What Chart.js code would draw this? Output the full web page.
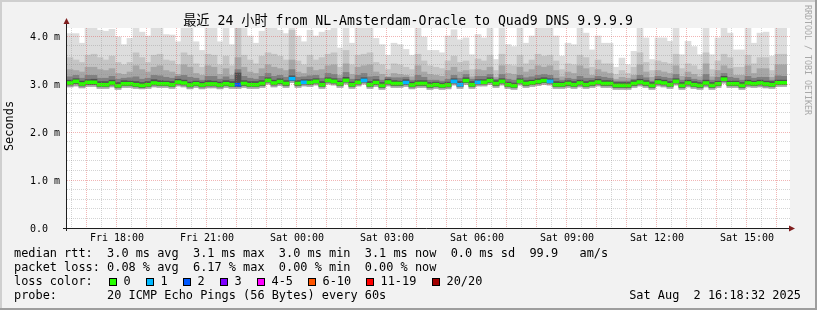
<!DOCTYPE html>
<html><head><meta charset="utf-8">
<script src="https://cdn.jsdelivr.net/npm/chart.js@4.4.1/dist/chart.umd.min.js"></script>
<style>html,body{margin:0;padding:0;background:#f2f2f2;overflow:hidden}canvas{display:block}</style>
</head><body><canvas id="c" width="817" height="310"></canvas>
<script>
// ---------------- data ----------------
const binMinutes = 12;                       // one bar per 12 minutes, 24 h window starting Fri 16:20
const xTickMinutes = [100, 280, 460, 640, 820, 1000, 1180, 1360];
const xTickLabels = ['Fri 18:00','Fri 21:00','Sat 00:00','Sat 03:00','Sat 06:00','Sat 09:00','Sat 12:00','Sat 15:00'];
const yTickValues = [0, 1, 2, 3, 4];
const yTickLabels = ['0.0', '1.0 m', '2.0 m', '3.0 m', '4.0 m'];

// median rtt (ms)
const medianRtt = [
 3.02,3.055,3.0,3.035,3.035,2.985,2.985,3.02,2.965,3.005,3.005,2.985,2.97,2.985,3.02,3.005,3.005,2.985,3.04,3.02,2.98,3.005,2.98,3.0,3.0,2.98,3.005,2.985,2.985,3.01,
 2.985,2.985,3.01,3.075,3.02,3.05,3.01,3.11,3.01,3.035,3.03,3.055,2.985,3.075,3.055,3.005,3.075,2.985,3.035,3.075,2.985,3.03,2.97,3.04,3.01,3.01,3.03,2.98,3.01,3.01,
 2.97,2.985,2.965,2.98,3.055,2.985,3.07,2.985,3.035,3.035,3.07,3.01,3.055,2.985,2.965,3.055,3.01,3.025,3.05,3.07,3.055,2.985,2.985,3.01,2.985,3.02,2.985,3.01,3.04,3.01,
 3.01,2.97,2.97,2.97,3.01,3.04,3.01,2.97,3.04,3.02,2.985,3.055,2.97,3.02,2.985,2.97,3.02,2.97,3.005,3.10,3.005,3.005,2.97,3.02,3.005,3.02,3.0,2.985,3.025,3.025
];
// lost pings (of 20) per bar
const lossPings = [
 0,0,0,0,0,0,0,0,0,0,0,0,0,0,0,0,0,0,0,0,0,0,0,0,0,0,0,0,2,0,
 0,0,0,0,0,0,0,1,0,1,0,0,0,0,0,0,0,0,0,1,0,0,0,0,0,0,1,0,0,0,
 0,0,0,0,1,1,0,0,1,0,0,0,0,0,0,0,0,0,0,0,1,0,0,0,0,0,0,0,0,0,
 0,0,0,0,0,0,0,0,0,0,0,0,0,0,0,0,0,0,0,0,0,0,0,0,0,0,0,0,0,0
];
// smoke: slowest ping of each bar (ms)
const pingMax = [
 4.05,4.05,3.85,4.2,4.2,4.12,4.10,4.14,3.98,3.82,3.95,4.2,4.08,4.0,4.2,4.2,4.03,4.02,3.88,4.2,4.2,3.88,3.70,4.2,4.2,3.88,4.2,3.82,4.2,4.2,
 4.0,3.85,4.10,4.2,4.2,4.12,4.05,4.2,4.0,3.88,4.12,4.0,4.08,4.12,4.2,3.75,4.2,3.85,4.2,4.2,4.2,3.95,3.82,3.60,3.85,3.82,3.72,3.60,4.2,3.98,
 3.70,3.70,3.65,4.0,4.13,3.92,3.96,3.61,4.03,3.96,4.2,3.51,4.2,3.82,3.78,4.2,3.85,4.0,4.2,4.2,4.2,4.0,3.58,3.85,3.82,4.2,4.06,3.71,4.0,3.85,
 3.85,3.35,3.54,3.40,3.68,4.2,3.96,3.51,3.96,3.96,3.89,4.2,3.61,3.89,3.78,3.61,4.2,3.61,3.96,4.2,4.06,3.71,3.71,4.2,3.85,4.06,4.08,3.58,4.2,4.2
];
// smoke: upper edges of the inner (darker) smoke bands (ms)
const smoke2Top = [
 3.55,3.50,3.45,3.60,3.62,3.55,3.50,3.58,3.45,3.40,3.45,3.65,3.55,3.45,3.60,3.62,3.50,3.48,3.40,3.65,3.60,3.42,3.35,3.62,3.60,3.40,3.58,3.38,4.2,3.60,
 3.50,3.42,3.58,3.65,3.62,3.58,3.50,4.12,3.48,3.40,3.60,3.50,3.55,3.62,3.65,3.35,3.70,3.40,3.60,3.62,3.65,3.45,3.40,3.30,3.42,3.40,3.35,3.30,3.62,3.48,
 3.38,3.35,3.32,3.48,3.58,3.45,3.48,3.30,3.52,3.48,3.60,3.28,3.62,3.40,3.38,3.60,3.42,3.50,3.62,3.58,3.60,3.48,3.30,3.42,3.40,3.60,3.55,3.35,3.50,3.42,
 3.42,3.20,3.28,3.22,3.35,3.65,3.45,3.28,3.48,3.45,3.42,3.62,3.32,3.42,3.38,3.30,3.65,3.30,3.48,3.62,3.55,3.35,3.35,3.60,3.42,3.55,3.55,3.28,3.62,3.62
];
const smoke3Top = [
 3.30,3.28,3.25,3.35,3.35,3.30,3.28,3.32,3.22,3.20,3.25,3.38,3.30,3.25,3.35,3.38,3.28,3.25,3.20,3.40,3.35,3.22,3.18,3.38,3.35,3.20,3.32,3.18,3.55,3.35,
 3.25,3.22,3.32,3.40,3.35,3.32,3.28,3.50,3.25,3.22,3.35,3.28,3.30,3.38,3.40,3.18,3.42,3.20,3.35,3.38,3.40,3.25,3.20,3.15,3.22,3.20,3.18,3.15,3.38,3.25,
 3.20,3.18,3.16,3.28,3.35,3.25,3.28,3.15,3.30,3.28,3.35,3.14,3.38,3.22,3.20,3.35,3.25,3.30,3.38,3.35,3.38,3.28,3.15,3.25,3.22,3.38,3.32,3.18,3.30,3.25,
 3.22,3.10,3.14,3.12,3.18,3.40,3.25,3.14,3.28,3.25,3.22,3.38,3.16,3.25,3.20,3.15,3.42,3.15,3.28,3.38,3.32,3.18,3.18,3.38,3.22,3.32,3.32,3.14,3.40,3.40
];
const smoke4Top = [
 3.15,3.18,3.12,3.18,3.18,3.12,3.12,3.16,3.10,3.12,3.13,3.15,3.10,3.12,3.18,3.17,3.14,3.12,3.16,3.18,3.14,3.12,3.08,3.16,3.16,3.10,3.15,3.10,3.30,3.16,
 3.12,3.10,3.16,3.22,3.16,3.18,3.14,3.30,3.14,3.15,3.17,3.18,3.12,3.22,3.20,3.12,3.24,3.10,3.18,3.22,3.15,3.16,3.08,3.14,3.13,3.13,3.14,3.08,3.18,3.14,
 3.08,3.08,3.06,3.10,3.18,3.12,3.20,3.10,3.16,3.16,3.20,3.10,3.20,3.10,3.08,3.18,3.13,3.15,3.18,3.20,3.18,3.12,3.08,3.12,3.10,3.16,3.12,3.12,3.16,3.14,
 3.12,3.06,3.06,3.06,3.10,3.18,3.13,3.06,3.16,3.14,3.12,3.20,3.08,3.14,3.10,3.08,3.20,3.08,3.14,3.22,3.14,3.12,3.08,3.16,3.12,3.14,3.14,3.08,3.17,3.16
];
const smoke5Top = [
 3.08,3.11,3.06,3.09,3.10,3.05,3.05,3.08,3.03,3.07,3.06,3.05,3.03,3.05,3.09,3.07,3.06,3.05,3.10,3.08,3.04,3.06,3.04,3.07,3.06,3.04,3.07,3.05,3.23,3.07,
 3.05,3.05,3.07,3.13,3.08,3.11,3.07,3.17,3.07,3.09,3.09,3.11,3.05,3.13,3.11,3.06,3.14,3.04,3.09,3.13,3.05,3.09,3.03,3.10,3.07,3.06,3.09,3.04,3.07,3.07,
 3.03,3.04,3.02,3.04,3.11,3.05,3.13,3.05,3.09,3.09,3.13,3.07,3.11,3.04,3.02,3.11,3.07,3.08,3.11,3.13,3.11,3.05,3.04,3.07,3.05,3.08,3.05,3.07,3.10,3.07,
 3.07,3.03,3.03,3.03,3.07,3.10,3.07,3.03,3.10,3.08,3.05,3.11,3.03,3.08,3.05,3.03,3.08,3.03,3.06,3.16,3.06,3.06,3.03,3.08,3.06,3.08,3.06,3.05,3.08,3.08
];
// smoke: lower edges (fastest ping, and inner low band)
const pingMin = [
 2.94,2.96,2.92,2.95,2.95,2.91,2.91,2.94,2.89,2.93,2.93,2.91,2.90,2.91,2.94,2.93,2.93,2.91,2.96,2.94,2.90,2.93,2.90,2.92,2.92,2.90,2.93,2.91,2.91,2.93,
 2.91,2.91,2.93,3.00,2.94,2.97,2.93,3.03,2.93,2.96,2.95,2.98,2.91,3.00,2.98,2.93,3.00,2.91,2.96,3.00,2.91,2.95,2.89,2.96,2.93,2.93,2.95,2.90,2.93,2.93,
 2.89,2.91,2.89,2.90,2.98,2.91,2.99,2.91,2.96,2.96,2.99,2.93,2.98,2.91,2.89,2.98,2.93,2.95,2.97,2.99,2.98,2.91,2.91,2.93,2.91,2.94,2.91,2.93,2.96,2.93,
 2.93,2.89,2.89,2.89,2.93,2.96,2.93,2.89,2.96,2.94,2.91,2.98,2.89,2.94,2.91,2.89,2.94,2.89,2.93,3.02,2.93,2.93,2.89,2.94,2.93,2.94,2.92,2.91,2.95,2.95
];
const pingLow = [
 2.98,3.01,2.96,2.99,2.99,2.95,2.95,2.98,2.93,2.97,2.97,2.95,2.93,2.95,2.98,2.97,2.97,2.95,3.00,2.98,2.94,2.97,2.94,2.96,2.96,2.94,2.97,2.95,2.95,2.97,
 2.95,2.95,2.97,3.04,2.98,3.01,2.97,3.07,2.97,3.00,2.99,3.02,2.95,3.04,3.02,2.97,3.04,2.95,3.00,3.04,2.95,2.99,2.93,3.00,2.97,2.97,2.99,2.94,2.97,2.97,
 2.93,2.95,2.93,2.94,3.02,2.95,3.03,2.95,3.00,3.00,3.03,2.97,3.02,2.95,2.93,3.02,2.97,2.99,3.01,3.03,3.02,2.95,2.95,2.97,2.95,2.98,2.95,2.97,3.00,2.97,
 2.97,2.93,2.93,2.93,2.97,3.00,2.97,2.93,3.00,2.98,2.95,3.02,2.93,2.98,2.95,2.93,2.98,2.93,2.97,3.06,2.97,2.97,2.93,2.98,2.97,2.98,2.96,2.95,2.99,2.99
];
const lossColorLabels = ['0','1','2','3','4-5','6-10','11-19','20/20'];
const lossColors = ['#26ff00','#00b8ff','#0059ff','#7e00ff','#ff00ff','#ff5500','#ff0000','#a10000'];

const titleText = '最近 24 小时 from NL-Amsterdam-Oracle to Quad9 DNS 9.9.9.9';
const legendLines = [
 'median rtt:  3.0 ms avg  3.1 ms max  3.0 ms min  3.1 ms now  0.0 ms sd  99.9   am/s',
 'packet loss: 0.08 % avg  6.17 % max  0.00 % min  0.00 % now'
];
const probeText = 'probe:       20 ICMP Echo Pings (56 Bytes) every 60s';
const dateText = 'Sat Aug  2 16:18:32 2025';

// ---------------- helpers ----------------
function lossIndex(n){ if(n<=3) return n; if(n<=5) return 4; if(n<=10) return 5; if(n<=19) return 6; return 7; }
const xOf = i => i*binMinutes + binMinutes/2;
function band(lo, hi){ return lo.map((v,i)=>({x:xOf(i), y:[v, hi[i]]})); }
const MEDW = 0.031;

const MONO = "'DejaVu Sans Mono','Noto Sans CJK SC',monospace";

const rrdPlugin = {
  id: 'rrd',
  beforeDraw(chart){
    const {ctx, chartArea:a} = chart;
    ctx.save();
    ctx.fillStyle = '#f2f2f2'; ctx.fillRect(0,0,chart.width,chart.height);
    ctx.fillStyle = '#ffffff'; ctx.fillRect(a.left, a.top, a.right-a.left+3, a.bottom-a.top);
    ctx.restore();
  },
  afterDatasetsDraw(chart){
    const {ctx, chartArea:a, scales:{x,y}} = chart;
    ctx.save();
    ctx.lineWidth = 1;
    ctx.setLineDash([1,1]);
    // minor horizontal grid (0.2 m)
    ctx.strokeStyle = 'rgba(143,143,143,0.38)';
    for(let k=1;k<=20;k++){
      if(k%5===0) continue;
      const py = Math.floor(y.getPixelForValue(k*0.2))+0.5;
      if(py < a.top) break;
      ctx.beginPath(); ctx.moveTo(a.left, py); ctx.lineTo(a.right+3, py); ctx.stroke();
    }
    // minor vertical grid (30 min)
    for(let t=10;t<1440;t+=60){
      const px = Math.round(x.getPixelForValue(t))-0.5;
      ctx.beginPath(); ctx.moveTo(px, a.top); ctx.lineTo(px, a.bottom); ctx.stroke();
    }
    // major grid
    ctx.strokeStyle = 'rgba(222,79,79,0.42)';
    for(const v of yTickValues){
      if(v===0) continue;
      const py = Math.floor(y.getPixelForValue(v))+0.5;
      ctx.beginPath(); ctx.moveTo(a.left, py); ctx.lineTo(a.right+3, py); ctx.stroke();
    }
    for(let t=40;t<1440;t+=60){
      const px = Math.round(x.getPixelForValue(t))-0.5;
      ctx.beginPath(); ctx.moveTo(px, a.top); ctx.lineTo(px, a.bottom+2); ctx.stroke();
    }
    ctx.restore();
  },
  afterDraw(chart){
    const {ctx, chartArea:a, scales:{x,y}} = chart;
    ctx.save();
    // axes
    ctx.strokeStyle = '#1f1f1f'; ctx.lineWidth = 1; ctx.setLineDash([]);
    ctx.beginPath(); ctx.moveTo(63, a.bottom+0.5); ctx.lineTo(a.right+3, a.bottom+0.5); ctx.stroke();
    ctx.beginPath(); ctx.moveTo(a.left-0.5, a.bottom+3); ctx.lineTo(a.left-0.5, a.top-5); ctx.stroke();
    ctx.fillStyle = '#801f1f';
    ctx.beginPath(); ctx.moveTo(a.right+2, a.bottom-2.5); ctx.lineTo(a.right+8, a.bottom+0.5); ctx.lineTo(a.right+2, a.bottom+3.5); ctx.closePath(); ctx.fill();
    ctx.beginPath(); ctx.moveTo(a.left-3.5, a.top-4); ctx.lineTo(a.left-0.5, a.top-10); ctx.lineTo(a.left+2.5, a.top-4); ctx.closePath(); ctx.fill();
    // tick labels
    ctx.fillStyle = '#000';
    ctx.font = '10px ' + MONO; ctx.textBaseline = 'middle';
    ctx.textAlign = 'left';
    yTickValues.forEach((v,i)=>{ ctx.fillText(yTickLabels[i], 30, y.getPixelForValue(v)+1); });
    ctx.textAlign = 'center';
    xTickMinutes.forEach((t,i)=>{ ctx.fillText(xTickLabels[i], x.getPixelForValue(t), 238); });
    // title
    ctx.font = '13.2px ' + MONO;
    ctx.fillText(titleText, 408, 22);
    // y axis title
    ctx.save(); ctx.translate(10, 126); ctx.rotate(-Math.PI/2);
    ctx.font = '11.9px ' + MONO; ctx.fillText('Seconds', 0, 0); ctx.restore();
    // watermark
    ctx.save(); ctx.translate(807, 5); ctx.rotate(Math.PI/2);
    ctx.font = '8.3px ' + MONO; ctx.fillStyle = '#a8a8a8'; ctx.textAlign='left';
    ctx.fillText('RRDTOOL / TOBI OETIKER', 0, 0); ctx.restore();
    // legend
    ctx.font = '11.9px ' + MONO; ctx.textAlign = 'left';
    ctx.fillText(legendLines[0], 14, 254);
    ctx.fillText(legendLines[1], 14, 268);
    ctx.fillText('loss color:', 14, 282);
    let bx = 109;
    lossColorLabels.forEach((lab,i)=>{
      ctx.fillStyle = '#000'; ctx.fillRect(bx, 278, 8, 8);
      ctx.fillStyle = lossColors[i]; ctx.fillRect(bx+1, 279, 6, 6);
      ctx.fillStyle = '#000';
      const tx = bx + 14.5;
      ctx.fillText(lab, tx, 282);
      bx = Math.round(tx + ctx.measureText(lab).width + 15.3);
    });
    ctx.fillText(probeText, 14, 296);
    ctx.textAlign = 'right';
    ctx.fillText(dateText, 801, 296);
    // frame
    ctx.fillStyle = '#cfcfcf'; ctx.fillRect(0,0,chart.width,2); ctx.fillRect(0,0,2,chart.height);
    ctx.fillStyle = '#9e9e9e'; ctx.fillRect(0,chart.height-2,chart.width,2); ctx.fillRect(chart.width-2,0,2,chart.height);
    ctx.restore();
  }
};

const medianColors = lossPings.map(n => lossColors[lossIndex(n)]);
const common = {grouped:false, barPercentage:1, categoryPercentage:1, borderWidth:0, borderSkipped:false};

new Chart(document.getElementById('c'), {
  type: 'bar',
  data: { datasets: [
    Object.assign({label:'median rtt', data: medianRtt.map((m,i)=>({x:xOf(i), y:[m-MEDW, m+MEDW]})), backgroundColor: medianColors, order:0}, common),
    Object.assign({label:'smoke5', data: band(pingLow, smoke5Top), backgroundColor:'#505050', order:1}, common),
    Object.assign({label:'smoke4', data: band(pingLow, smoke4Top), backgroundColor:'#808080', order:2}, common),
    Object.assign({label:'smoke3', data: band(pingMin, smoke3Top), backgroundColor:'#a6a6a6', order:3}, common),
    Object.assign({label:'smoke2', data: band(pingMin, smoke2Top), backgroundColor:'#c4c4c4', order:4}, common),
    Object.assign({label:'smoke1', data: band(pingMin, pingMax), backgroundColor:'#dddddd', order:5}, common)
  ]},
  options: {
    responsive:false, animation:false, devicePixelRatio:1,
    layout:{padding:{left:67, right:30, top:28, bottom:82}},
    plugins:{legend:{display:false}, tooltip:{enabled:false}},
    scales:{
      x:{type:'linear', min:0, max:1440, display:false, offset:false},
      y:{type:'linear', min:0, max:200/48, display:false}
    }
  },
  plugins:[rrdPlugin]
});
</script></body></html>
